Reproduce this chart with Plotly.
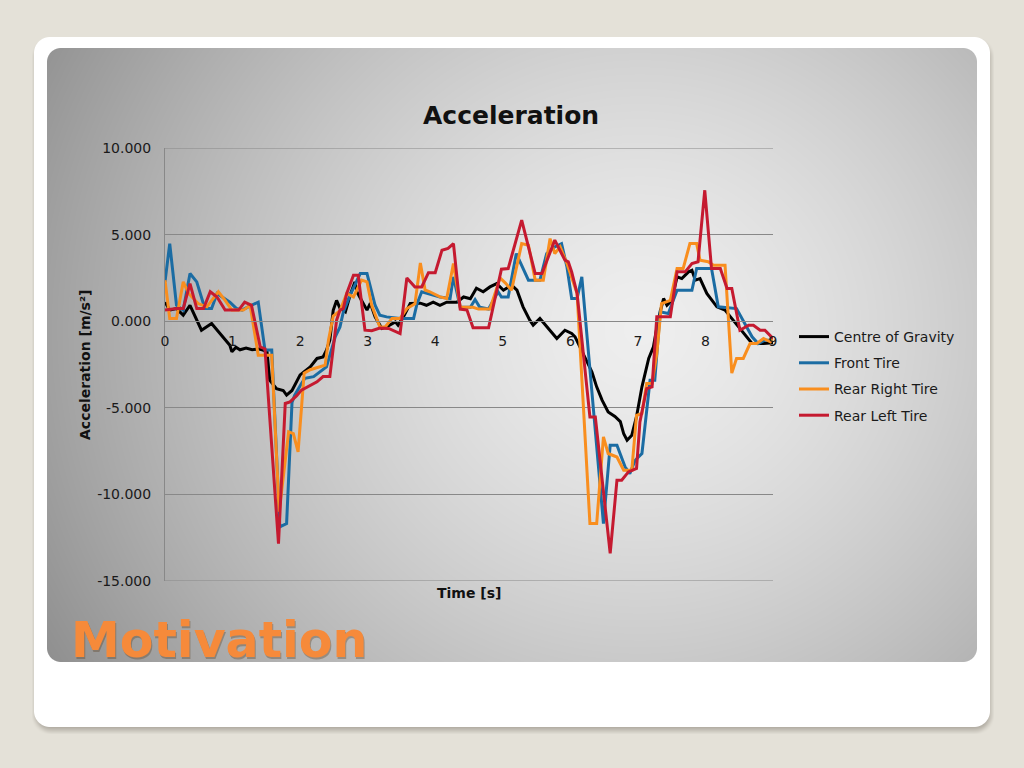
import base64
import struct
import zlib

import numpy as np
import plotly.graph_objects as go

# ---------------- data ----------------
cog_t = [0, 0.07, 0.17, 0.27, 0.37, 0.54, 0.69, 0.84, 0.96, 0.99, 1.05, 1.11, 1.2, 1.29, 1.38, 1.45, 1.51,
         1.55, 1.65, 1.75, 1.8, 1.88, 1.95, 2.0, 2.15, 2.25, 2.34, 2.39, 2.44, 2.49, 2.54, 2.59, 2.67, 2.74,
         2.81, 2.84, 2.91, 2.99, 3.04, 3.11, 3.21, 3.28, 3.41, 3.45, 3.53, 3.63, 3.78, 3.87, 3.97, 4.07, 4.17,
         4.32, 4.42, 4.52, 4.61, 4.71, 4.81, 4.91, 5.01, 5.13, 5.21, 5.3, 5.4, 5.45, 5.55, 5.7, 5.8, 5.92, 6.02,
         6.07, 6.14, 6.24, 6.32, 6.39, 6.47, 6.56, 6.66, 6.74, 6.79, 6.84, 6.91, 6.98, 7.06, 7.16, 7.23, 7.3,
         7.38, 7.43, 7.5, 7.58, 7.65, 7.75, 7.8, 7.85, 7.92, 8.02, 8.17, 8.29, 8.41, 8.56, 8.69, 8.86, 9.0]
cog_a = [1.1, 0.64, 0.73, 0.35, 0.92, -0.52, -0.13, -0.81, -1.39, -1.77, -1.5, -1.65, -1.55, -1.65, -1.6, -1.67,
         -1.77, -3.4, -3.9, -4.0, -4.27, -4.0, -3.5, -3.1, -2.64, -2.15, -2.06, -1.67, -1.1, 0.63, 1.2, 0.75,
         0.54, 1.5, 2.27, 1.7, 1.2, 0.64, 1.04, 0.25, -0.42, -0.33, -0.04, -0.23, 0.25, 1.02, 1.04, 0.92, 1.1,
         0.92, 1.1, 1.1, 1.4, 1.3, 1.9, 1.7, 1.98, 2.17, 1.79, 2.08, 1.79, 0.83, 0.06, -0.23, 0.16, -0.52, -1.0,
         -0.52, -0.71, -0.9, -1.48, -2.25, -2.93, -3.79, -4.56, -5.24, -5.5, -5.8, -6.5, -6.87, -6.58, -5.5,
         -3.79, -2.15, -1.48, 0.06, 1.31, 0.92, 1.2, 2.56, 2.46, 2.85, 2.94, 2.37, 2.46, 1.6, 0.83, 0.64, 0.06,
         -0.62, -1.29, -1.29, -1.25]

front_t = [0, 0.07, 0.17, 0.27, 0.37, 0.47, 0.59, 0.69, 0.77, 0.96, 1.06, 1.14, 1.23, 1.38, 1.48, 1.58, 1.7,
           1.8, 1.88, 1.92, 2.02, 2.07, 2.2, 2.3, 2.39, 2.52, 2.59, 2.64, 2.74, 2.89, 2.99, 3.11, 3.18, 3.28,
           3.48, 3.68, 3.73, 3.8, 4.07, 4.22, 4.27, 4.37, 4.52, 4.59, 4.66, 4.79, 4.93, 4.98, 5.08, 5.2, 5.38,
           5.55, 5.65, 5.77, 5.87, 5.95, 6.02, 6.1, 6.17, 6.49, 6.59, 6.69, 6.81, 6.88, 6.96, 7.06, 7.18, 7.25,
           7.33, 7.45, 7.58, 7.8, 7.87, 8.09, 8.19, 8.46, 8.59, 8.69, 8.78, 8.88, 9.0]
front_a = [2.27, 4.48, 0.92, 0.64, 2.75, 2.27, 0.73, 0.73, 1.6, 1.1, 0.73, 0.64, 0.83, 1.1, -1.67, -1.67,
           -11.88, -11.68, -4.7, -4.27, -3.6, -3.3, -3.2, -2.93, -2.64, -0.9, -0.33, 0.54, 1.5, 2.75, 2.75,
           0.92, 0.35, 0.25, 0.16, 0.16, 1.0, 1.7, 1.4, 1.31, 2.56, 0.8, 0.8, 1.25, 0.8, 0.7, 1.7, 1.4, 1.4,
           3.9, 2.37, 2.37, 3.91, 4.29, 4.48, 3.13, 1.31, 1.31, 2.56, -11.68, -7.16, -7.16, -8.41, -8.8, -8.03,
           -7.64, -3.41, -3.41, 0.54, 0.44, 1.79, 1.79, 3.04, 3.04, 0.83, 0.73, -0.23, -0.9, -1.29, -1.1, -1.1]

rr_t = [0, 0.07, 0.17, 0.27, 0.35, 0.49, 0.62, 0.79, 0.89, 0.99, 1.16, 1.26, 1.38, 1.58, 1.69, 1.83, 1.9,
        1.97, 2.06, 2.15, 2.37, 2.42, 2.49, 2.59, 2.69, 2.79, 2.91, 2.99, 3.06, 3.18, 3.26, 3.36, 3.48, 3.58,
        3.7, 3.78, 3.85, 3.92, 4.07, 4.17, 4.27, 4.37, 4.56, 4.64, 4.81, 4.96, 5.04, 5.13, 5.28, 5.38, 5.48,
        5.6, 5.7, 5.77, 5.85, 5.95, 6.1, 6.29, 6.39, 6.49, 6.56, 6.69, 6.79, 6.91, 6.98, 7.06, 7.13, 7.21,
        7.28, 7.35, 7.48, 7.58, 7.67, 7.77, 7.87, 7.92, 8.04, 8.12, 8.29, 8.39, 8.46, 8.56, 8.66, 8.76, 8.86,
        8.96, 9.0]
rr_a = [2.37, 0.16, 0.16, 2.27, 1.6, 1.02, 0.83, 1.7, 1.2, 0.64, 0.64, 0.92, -1.96, -1.96, -11.0, -6.39,
        -6.49, -7.55, -3.0, -2.8, -2.54, -1.1, 0.3, 0.6, 1.6, 1.4, 2.37, 2.27, 0.92, -0.33, -0.33, 0.16, 0.16,
        0.73, 1.0, 3.36, 1.8, 1.7, 1.4, 1.31, 3.33, 0.8, 0.8, 0.7, 0.7, 2.5, 2.2, 1.79, 4.48, 4.39, 2.37, 2.37,
        4.77, 3.91, 4.29, 3.33, 1.6, -11.68, -11.68, -6.68, -7.64, -7.84, -8.6, -8.6, -5.43, -5.33, -3.6,
        -3.6, -1.87, 1.02, 1.2, 3.04, 3.04, 4.48, 4.48, 3.52, 3.43, 3.23, 3.23, -3.0, -2.15, -2.15, -1.29,
        -1.29, -1.0, -1.19, -0.9]

rl_t = [0, 0.17, 0.27, 0.37, 0.47, 0.57, 0.67, 0.77, 0.89, 1.09, 1.18, 1.28, 1.41, 1.48, 1.68, 1.78, 1.85,
        1.95, 2.02, 2.12, 2.25, 2.34, 2.44, 2.54, 2.59, 2.64, 2.69, 2.79, 2.86, 2.96, 3.06, 3.18, 3.31, 3.48,
        3.58, 3.7, 3.8, 3.9, 4.0, 4.1, 4.19, 4.27, 4.37, 4.47, 4.56, 4.79, 4.98, 5.08, 5.28, 5.48, 5.58, 5.77,
        5.92, 5.97, 6.02, 6.1, 6.29, 6.37, 6.59, 6.69, 6.76, 6.86, 6.98, 7.03, 7.13, 7.21, 7.28, 7.48, 7.58,
        7.7, 7.8, 7.89, 7.99, 8.09, 8.22, 8.32, 8.39, 8.51, 8.64, 8.71, 8.81, 8.88, 8.96, 9.0]
rl_a = [0.64, 0.73, 0.73, 2.17, 0.73, 0.73, 1.7, 1.4, 0.64, 0.64, 1.1, 0.92, -1.48, -1.6, -12.84, -4.75, -4.66,
        -4.3, -3.98, -3.79, -3.5, -3.2, -3.2, 0.06, 0.64, 0.73, 1.6, 2.65, 2.65, -0.52, -0.55, -0.4, -0.42,
        -0.71, 2.5, 1.98, 1.98, 2.8, 2.8, 4.1, 4.2, 4.48, 0.7, 0.64, -0.38, -0.38, 3.0, 3.04, 5.83, 2.75, 2.75,
        4.68, 3.52, 3.43, 2.85, 1.6, -5.53, -5.53, -13.41, -9.18, -9.18, -8.7, -8.5, -5.81, -3.89, -3.79, 0.25,
        0.25, 2.85, 2.85, 3.33, 3.43, 7.56, 3.04, 3.04, 1.89, 1.89, -0.52, -0.23, -0.23, -0.52, -0.52, -0.81,
        -1.0]

series_names = ["Centre of Gravity", "Front Tire", "Rear Right Tire", "Rear Left Tire"]
series_colors = ["#000000", "#1B6CA3", "#F98E1E", "#C51A30"]

y_tickvals = [10, 5, 0, -5, -10, -15]
y_ticktext = ["10.000", "5.000", "0.000", "-5.000", "-10.000", "-15.000"]
x_tickvals = [0, 1, 2, 3, 4, 5, 6, 7, 8, 9]
x_ticktext = ["0", "1", "2", "3", "4", "5", "6", "7", "8", "9"]
y_min, y_max = -15, 10
x_min, x_max = 0, 9

# ---------------- background picture (slide frame + gradient panel) ----------------
W, H = 1024, 768
yy, xx = np.mgrid[0:H, 0:W].astype(float)
px, py = xx + 0.5, yy + 0.5


def rrect(x0, y0, x1, y1, r):
    dx = np.maximum(np.maximum(x0 + r - px, px - (x1 - r)), 0)
    dy = np.maximum(np.maximum(y0 + r - py, py - (y1 - r)), 0)
    d = np.sqrt(dx * dx + dy * dy)
    return np.clip(r - d + 0.5, 0, 1)


def blur(a, k):
    for axis in (0, 1):
        c = np.cumsum(np.pad(a, [(k + 1, k) if i == axis else (0, 0) for i in range(2)], mode="edge"), axis=axis)
        if axis == 0:
            a = (c[2 * k + 1:, :] - c[:-2 * k - 1, :]) / (2 * k + 1)
        else:
            a = (c[:, 2 * k + 1:] - c[:, :-2 * k - 1]) / (2 * k + 1)
    return a


img = np.empty((H, W, 3))
img[:] = (228, 225, 216)
sh = blur(rrect(35, 41, 991, 731, 16), 3) * 0.55
img = img * (1 - sh[..., None]) + np.array([140, 134, 124]) * sh[..., None]
card = rrect(34, 37, 990, 727, 16)[..., None]
img = img * (1 - card) + 255 * card
d = np.sqrt((px - 640) ** 2 + ((py - 330) * 1.05) ** 2)
g = 238 - 88 * np.clip(d / 650, 0, 1.15) ** 1.4
panel = rrect(47, 48, 977, 662, 14)[..., None]
img = img * (1 - panel) + g[..., None] * panel
img = np.clip(np.round(img), 0, 255).astype(np.int16)


def png_uri(a):
    h, w, _ = a.shape
    f = a.copy()
    f[:, 1:, :] = (a[:, 1:, :] - a[:, :-1, :]) % 256
    f = f.astype(np.uint8).reshape(h, w * 3)
    raw = np.hstack([np.ones((h, 1), np.uint8), f]).tobytes()

    def chunk(t, dat):
        return struct.pack(">I", len(dat)) + t + dat + struct.pack(">I", zlib.crc32(t + dat) & 0xFFFFFFFF)

    png = (b"\x89PNG\r\n\x1a\n" + chunk(b"IHDR", struct.pack(">IIBBBBB", w, h, 8, 2, 0, 0, 0))
           + chunk(b"IDAT", zlib.compress(raw, 9)) + chunk(b"IEND", b""))
    return "data:image/png;base64," + base64.b64encode(png).decode()


# ---------------- figure ----------------
fig = go.Figure()
for t, a, name, col in zip([cog_t, front_t, rr_t, rl_t], [cog_a, front_a, rr_a, rl_a], series_names, series_colors):
    fig.add_trace(go.Scatter(x=t, y=a, mode="lines", name=name, legendgroup=name,
                             line=dict(color=col, width=3)))

FONT = "DejaVu Sans, Verdana, sans-serif"
GRID = "#888888"
x0p, x1p = 165 / W, 773 / W
y1p, y0p = 1 - 148 / H, 1 - 581 / H
zero_pos = y0p + (0 - y_min) / (y_max - y_min) * (y1p - y0p)

# gridlines at the two range edges (Plotly omits them at the domain border)
edge_lines = [dict(type="line", xref="x", yref="y", x0=x_min, x1=x_max, y0=v, y1=v, layer="between",
                   line=dict(color=GRID, width=1)) for v in (y_min, y_max)]

fig.update_layout(
    width=W, height=H,
    margin=dict(l=0, r=0, t=0, b=0, autoexpand=False),
    paper_bgcolor="rgb(228,225,216)",
    plot_bgcolor="rgba(0,0,0,0)",
    font=dict(family=FONT, size=14, color="#1a1a1a"),
    images=[dict(source=png_uri(img), xref="paper", yref="paper", x=0, y=1, sizex=1, sizey=1,
                 xanchor="left", yanchor="top", sizing="stretch", layer="below")],
    shapes=edge_lines,
    xaxis=dict(domain=[x0p, x1p], range=[x_min, x_max], anchor="free", position=zero_pos,
               showgrid=False, zeroline=False, showline=True, linecolor=GRID, linewidth=1,
               tickvals=x_tickvals, ticktext=x_ticktext, ticks="", ticklabelstandoff=7,
               tickfont=dict(size=14, color="#1a1a1a")),
    yaxis=dict(domain=[y0p, y1p], range=[y_min, y_max], showgrid=True, gridcolor=GRID, gridwidth=1,
               zeroline=False, showline=True, linecolor=GRID, linewidth=1,
               tickvals=y_tickvals, ticktext=y_ticktext, ticks="", ticklabelstandoff=10,
               tickfont=dict(size=14, color="#1a1a1a")),
    showlegend=True,
    legend=dict(x=794 / W, y=1 - 321 / H, xanchor="left", yanchor="top", bgcolor="rgba(0,0,0,0)",
                traceorder="grouped", tracegroupgap=5, font=dict(size=14, color="#1a1a1a", family=FONT),
                itemwidth=30),
    annotations=[
        dict(text="<b>Acceleration</b>", x=511 / W, y=1 - 115 / H, xref="paper", yref="paper",
             showarrow=False, font=dict(size=25, color="#111111", family=FONT), xanchor="center", yanchor="middle"),
        dict(text="<b>Acceleration [m/s²]</b>", x=85 / W, y=1 - 365 / H, xref="paper", yref="paper",
             showarrow=False, textangle=-90, font=dict(size=14, color="#111111", family=FONT),
             xanchor="center", yanchor="middle"),
        dict(text="<b>Time [s]</b>", x=469 / W, y=1 - 593 / H, xref="paper", yref="paper",
             showarrow=False, font=dict(size=14, color="#111111", family=FONT), xanchor="center", yanchor="middle"),
        dict(text="<b>Motivation</b>", x=70 / W, y=1 - 642 / H, xref="paper", yref="paper",
             showarrow=False, font=dict(size=49, color="rgba(90,60,30,0.35)", family=FONT),
             xanchor="left", yanchor="middle"),
        dict(text="<b>Motivation</b>", x=68.5 / W, y=1 - 640.5 / H, xref="paper", yref="paper",
             showarrow=False, font=dict(size=49, color="#F68A3A", family=FONT),
             xanchor="left", yanchor="middle"),
    ],
)

fig.write_html("out.html", config={"displayModeBar": False},
               post_script="document.body.style.margin='0';document.body.style.overflow='hidden';")
